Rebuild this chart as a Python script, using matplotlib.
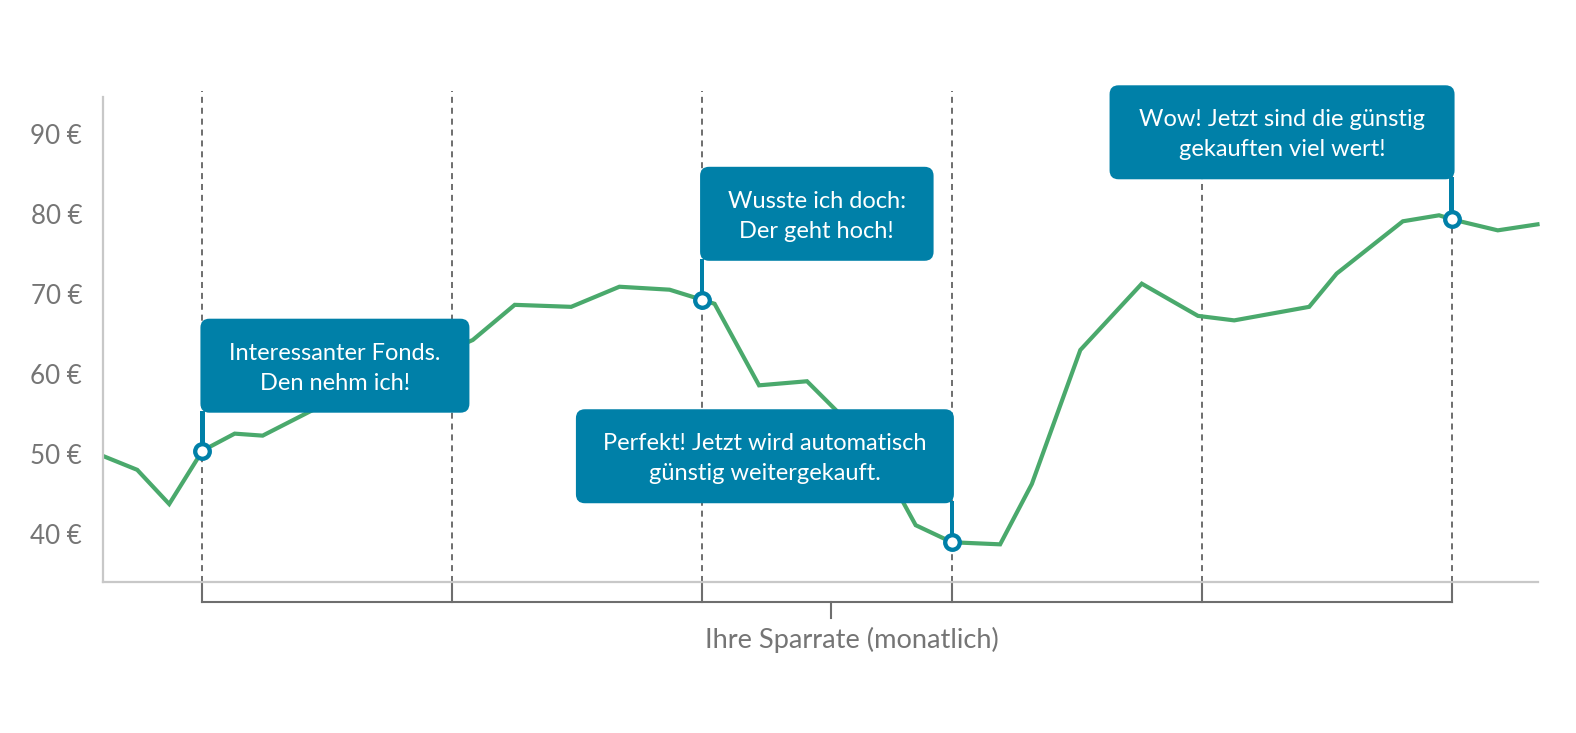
import matplotlib
matplotlib.use('Agg')
import matplotlib.pyplot as plt
from matplotlib.patches import FancyBboxPatch, Rectangle
from matplotlib.transforms import IdentityTransform

plt.rcParams['font.family'] = ['Lato', 'DejaVu Sans']

# months since first savings instalment
months = [-0.39, -0.261, -0.133, 0, 0.129, 0.241, 0.438, 1.082, 1.25, 1.476, 1.669, 1.87, 2.0,
          2.05, 2.228, 2.42, 2.549, 2.80, 2.855, 3.0, 3.193, 3.32, 3.514, 3.76, 3.985, 4.13,
          4.43, 4.54, 4.805, 4.95, 5.0, 5.185, 5.344]
price = [49.67, 48.04, 43.77, 50.43, 52.56, 52.31, 55.45, 64.25, 68.64, 68.39, 70.9, 70.53, 69.27,
         68.77, 58.59, 59.1, 55.08, 44.27, 41.13, 39.0, 38.74, 46.28, 63.0, 71.28, 67.26, 66.7,
         68.39, 72.54, 79.07, 79.82, 79.32, 77.94, 78.69]

instalments = [0, 1, 2, 3, 4, 5]
y_ticks = [40, 50, 60, 70, 80, 90]
y_labels = ['40 €', '50 €', '60 €', '70 €', '80 €', '90 €']
x_label = 'Ihre Sparrate (monatlich)'

# callouts: marker month, marker value, text
callout_month = [0, 2, 3, 5]
callout_value = [50.43, 69.27, 39.0, 79.32]
callout_text = ['Interessanter Fonds.\nDen nehm ich!',
                'Wusste ich doch:\nDer geht hoch!',
                'Perfekt! Jetzt wird automatisch\ngünstig weitergekauft.',
                'Wow! Jetzt sind die günstig\ngekauften viel wert!']
# box edges relative to the marker, in pixels
box_left = [-2, -2, -376, -342]
box_right = [267, 231.5, 2, 3]
box_top = [132, 133, 133, 134]
BOX_H = 94

BLUE = '#0080a8'
GREEN = '#4aa96c'
GREY = '#757575'
DARK = '#6e6e6e'
AXIS = '#c8c8c8'

W, H = 1576, 733
fig = plt.figure(figsize=(W / 100, H / 100), dpi=100)
ax = fig.add_axes([103 / W, (H - 581.5) / H, 1434.5 / W, 485 / H])
ax.set_xlim(-0.398, 5.344)
ax.set_ylim(34.1, 94.65)

ax.plot(months, price, color=GREEN, lw=3.0, solid_joinstyle='miter', zorder=2, clip_on=False)

# dashed guides and the bracket under the axis
for m in instalments:
    ax.plot([m, m], [34.1, 95.3], color=DARK, lw=1.4, dashes=(3.1, 2.5), zorder=1, clip_on=False)
    ax.plot([m, m], [31.6, 34.1], color=DARK, lw=1.5, zorder=1, clip_on=False)
ax.plot([instalments[0], instalments[-1]], [31.6, 31.6], color=DARK, lw=1.5, clip_on=False, solid_capstyle='projecting')
ax.plot([2.517, 2.517], [31.6, 29.55], color=DARK, lw=1.5, clip_on=False)
ax.text(2.6, 26.8, x_label, color=GREY, fontsize=19.6, ha='center', va='center')

for side in ['top', 'right']:
    ax.spines[side].set_visible(False)
for side in ['left', 'bottom']:
    ax.spines[side].set_color(AXIS)
    ax.spines[side].set_linewidth(1.6)
ax.set_xticks([])
ax.set_yticks(y_ticks)
ax.set_yticklabels(y_labels, color=GREY, fontsize=18.7)
ax.tick_params(axis='y', length=0, pad=15)

# callout boxes are placed in pixels, relative to their marker
fig.canvas.draw()
for m, v, txt, left, right, top in zip(callout_month, callout_value, callout_text, box_left, box_right, box_top):
    px, py = ax.transData.transform((m, v))
    bottom = py + top - BOX_H
    r = 9
    ax.add_patch(FancyBboxPatch((px + left + r, bottom + r), right - left - 2 * r, BOX_H - 2 * r,
                                boxstyle='round,pad=%d,rounding_size=%d' % (r, r),
                                fc=BLUE, ec='none', transform=IdentityTransform(), zorder=5, clip_on=False))
    ax.add_patch(Rectangle((px - 2.1, py), 4.2, bottom - py + 2, fc=BLUE, ec='none',
                           transform=IdentityTransform(), zorder=5, clip_on=False))
    ax.text(px + (left + right) / 2, bottom + BOX_H / 2 - 2.5, txt, color='white', fontsize=17.0,
            ha='center', va='center', linespacing=1.52, zorder=7, transform=IdentityTransform())
    ax.plot([m], [v], 'o', ms=10.5, mfc='white', mec=BLUE, mew=3.1, zorder=8, clip_on=False)

fig.savefig('out.png', dpi=100, facecolor='white')
